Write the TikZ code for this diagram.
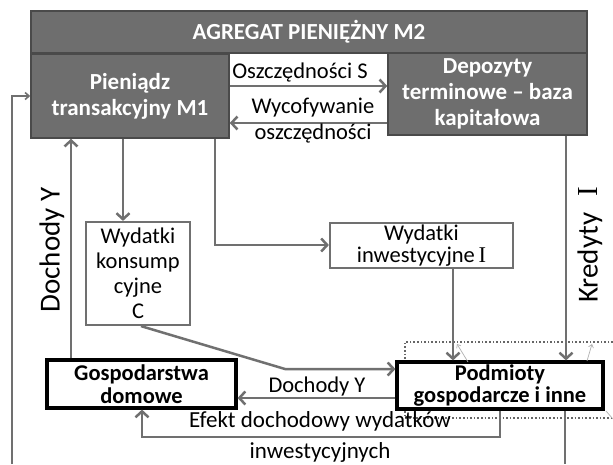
\documentclass[tikz,border=0pt]{standalone}
\usepackage{fontspec}
\setmainfont{Carlito}
\newfontfamily\serifI{Liberation Serif}
\usetikzlibrary{arrows.meta}
\definecolor{boxgray}{HTML}{6E6E6E}
\definecolor{boxedge}{HTML}{4A4A4A}
\definecolor{linegray}{HTML}{707070}
\tikzset{
  darkbox/.style={draw=boxedge, line width=1.5pt, fill=boxgray, text=white, font=\bfseries\fontsize{23}{26}\selectfont, align=center, inner sep=0pt},
  lightbox/.style={draw=linegray, line width=2.2pt, fill=white, align=center, inner sep=0pt, font=\fontsize{22.5}{25}\selectfont},
  blackbox/.style={draw=black, line width=3.2pt, fill=white, align=center, inner sep=0pt, font=\bfseries\fontsize{22.5}{22.5}\selectfont},
  arr/.style={draw=linegray, line width=2.5pt, -{Straight Barb[length=6pt,width=13pt]}},
  thinarr/.style={draw=linegray, line width=1.6pt, -{Straight Barb[length=4pt,width=7pt]}},
  thinline/.style={draw=linegray, line width=1.6pt},
  tinyarr/.style={draw=gray!60, line width=0.7pt, -{Straight Barb[length=3pt,width=5pt]}},
  lbl/.style={font=\fontsize{22.5}{26}\selectfont, align=center, inner sep=0pt},
  biglbl/.style={font=\fontsize{29}{32}\selectfont, inner sep=0pt},
  dots/.style={draw=gray!80!black, line width=1.6pt, dotted}
}
\begin{document}
\begin{tikzpicture}[x=1pt,y=-1pt]
\useasboundingbox (0,0) rectangle (613,464);
\fill[white] (0,0) rectangle (613,464);

% dotted frame (partially hidden)
\draw[dots] (613,342) -- (405,342) -- (405,418) -- (613,418);

% boxes
\node[darkbox, minimum width=556pt, minimum height=42pt] (m2) at (309,32) {AGREGAT PIENIĘŻNY M2};
\node[darkbox, minimum width=198pt, minimum height=84pt] (m1) at (130,96) {Pieniądz\\transakcyjny M1};
\node[darkbox, minimum width=199pt, minimum height=82pt] (dep) at (487.5,94) {Depozyty\\terminowe – baza\\kapitałowa};
\node[lightbox, minimum width=104pt, minimum height=103pt] (kons) at (138,273.5) {Wydatki\\konsump\\cyjne\\C};
\node[lightbox, minimum width=183pt, minimum height=45pt, font=\fontsize{22.5}{22.5}\selectfont] (inw) at (421.5,245.5) {Wydatki\\inwestycyjne\,{\serifI I}};
\node[blackbox, minimum width=189pt, minimum height=48pt] (gosp) at (141.5,384) {Gospodarstwa\\domowe};
\node[blackbox, minimum width=206pt, minimum height=47pt] (podm) at (500,385.5) {Podmioty\\gospodarcze i inne};

% savings arrows
\draw[arr] (m1.east |- 0,86) -- (dep.west |- 0,86);
\draw[arr] (dep.west |- 0,123) -- (m1.east |- 0,123);
\node[lbl] (ls) at (300,72) {Oszczędności S};
\node[lbl] (lw) at (313,121) {Wycofywanie\\oszczędności};

% M1 to spending
\draw[arr] (m1.south -| 123,0) -- (kons.north -| 123,0);
\coordinate (c1) at (215,245);
\draw[arr] (m1.south -| 215,0) -- (c1) -- (inw.west |- c1);
\draw[arr] (inw.south -| 453,0) -- (podm.north -| 453,0);
\draw[arr] (dep.south -| 566,0) -- (podm.north -| 566,0);
\node[biglbl, rotate=90] (lk) at (590,245) {Kredyty\;\;{\serifI I}};

% households
\draw[arr] (gosp.north -| 71,0) -- (m1.south -| 71,0);
\node[biglbl, rotate=90] (ld) at (52,250) {Dochody Y};
\coordinate (c2) at (285,369);
\draw[arr] (kons.south -| 141,0) -- (c2) -- (podm.west |- c2);
\draw[arr] (podm.west |- 0,398) -- (gosp.east |- 0,398);
\node[lbl] (ly) at (317,386) {Dochody Y};
\coordinate (c3) at (500,437);
\coordinate (c4) at (142,437);
\draw[arr] (podm.south -| c3) -- (c3) -- (c4) -- (gosp.south -| c4);
\node[lbl, font=\fontsize{23}{26}\selectfont] (le) at (320,421) {Efekt dochodowy wydatków};
\node[lbl, font=\fontsize{23}{26}\selectfont] (li) at (320,452) {inwestycyjnych};

% outer feedback lines
\coordinate (bl) at (12,464);
\coordinate (bl2) at (12,96);
\draw[thinarr] (bl) -- (bl2) -- (m1.west |- bl2);
\coordinate (br) at (565,464);
\draw[thinline] (podm.south -| br) -- (br);

% tiny cropped fragments
\coordinate (t1) at (468,362);
\coordinate (t2) at (457,344);
\draw[tinyarr] (t1) -- (t2);
\coordinate (t3) at (587,361);
\coordinate (t4) at (592,344);
\draw[tinyarr] (t3) -- (t4);
\coordinate (t5) at (606,411);
\coordinate (t6) at (613,419);
\draw[draw=gray!60, line width=0.7pt] (t5) -- (t6);
\end{tikzpicture}
\end{document}
